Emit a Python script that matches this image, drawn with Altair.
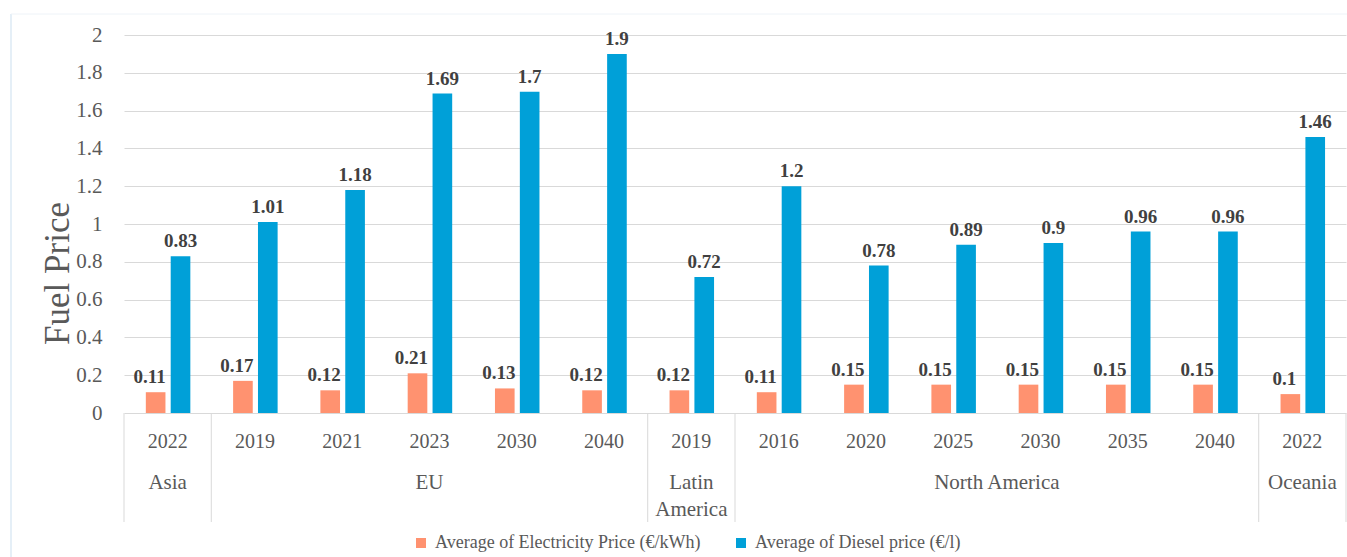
import altair as alt
import pandas as pd

# Fuel price comparison by region and year
regions = ["Asia", "EU", "EU", "EU", "EU", "EU", "Latin America",
           "North America", "North America", "North America", "North America",
           "North America", "North America", "Oceania"]
years = ["2022", "2019", "2021", "2023", "2030", "2040", "2019",
         "2016", "2020", "2025", "2030", "2035", "2040", "2022"]
electricity = [0.11, 0.17, 0.12, 0.21, 0.13, 0.12, 0.12,
               0.11, 0.15, 0.15, 0.15, 0.15, 0.15, 0.1]
diesel = [0.83, 1.01, 1.18, 1.69, 1.7, 1.9, 0.72,
          1.2, 0.78, 0.89, 0.9, 0.96, 0.96, 1.46]
series_names = ["Average of Electricity Price (€/kWh)", "Average of Diesel price (€/l)"]
series_colors = ["#FF9270", "#00A0D8"]
y_ticks = [0, 0.2, 0.4, 0.6, 0.8, 1.0, 1.2, 1.4, 1.6, 1.8, 2.0]

FONT = "Liberation Serif"
GRID = "#d9d9d9"
TEXT = "#595959"

# long table: one row per bar
rows = []
for i, (reg, yr) in enumerate(zip(regions, years)):
    rows.append({"slot": i, "region": reg, "year": yr, "series": series_names[0], "value": electricity[i], "k": 0})
    rows.append({"slot": i, "region": reg, "year": yr, "series": series_names[1], "value": diesel[i], "k": 1})
bars_df = pd.DataFrame(rows)

slots_df = pd.DataFrame({"slot": list(range(len(years))), "year": years})
slots_df["mid"] = slots_df["slot"] + 0.5

# region groups: centre for the label, edges for the separators
groups = []
edges = [0]
start = 0
for i in range(1, len(regions) + 1):
    if i == len(regions) or regions[i] != regions[start]:
        groups.append({"region": regions[start], "mid": (start + i) / 2})
        edges.append(i)
        start = i
groups_df = pd.DataFrame(groups)
groups_df["label"] = groups_df["region"].str.replace("Latin America", "Latin\nAmerica")
edges_df = pd.DataFrame({"edge": edges})

N = len(years)
xscale = alt.Scale(domain=[0, N], nice=False, zero=False, padding=0)
yscale = alt.Scale(domain=[0, 2], nice=False)

yaxis = alt.Axis(values=y_ticks, format=".1~f", domain=False, ticks=False,
                 grid=True, gridColor=GRID, gridWidth=1, labelOverlap=False,
                 labelFont=FONT, labelFontSize=21, labelColor=TEXT, labelPadding=22,
                 title="Fuel Price", titleFont=FONT, titleFontSize=35,
                 titleFontWeight="normal", titleColor=TEXT,
                 titleX=-67, titleY=238, titleBaseline="middle", titleAngle=270)

base = alt.Chart(bars_df).transform_calculate(
    x0="datum.slot + (datum.k == 0 ? 0.25 : 0.535)",
    x1="datum.slot + (datum.k == 0 ? 0.475 : 0.76)",
    xc="datum.slot + (datum.k == 0 ? 0.3625 : 0.6475)",
)

bars = base.mark_bar(orient="vertical").encode(
    x=alt.X("x0:Q", scale=xscale, axis=None),
    x2="x1:Q",
    y=alt.Y("value:Q", scale=yscale, axis=yaxis),
    y2=alt.datum(0),
    color=alt.Color("series:N",
                    scale=alt.Scale(domain=series_names, range=series_colors),
                    legend=alt.Legend(title=None, orient="none", direction="horizontal",
                                      legendX=288, legendY=499,
                                      symbolType="square", symbolSize=100, symbolStrokeWidth=0,
                                      labelFont=FONT, labelFontSize=18, labelColor=TEXT,
                                      labelOffset=5, columnPadding=31, labelLimit=400)),
)

label_style = dict(baseline="alphabetic", align="center", dy=-9,
                   font=FONT, fontSize=19, fontWeight="bold", color="#404040")
elec_labels = base.transform_filter("datum.k == 0").mark_text(dx=-6, **label_style).encode(
    x=alt.X("xc:Q", scale=xscale, axis=None), y=alt.Y("value:Q", scale=yscale, axis=yaxis),
    text=alt.Text("value:Q", format="~g"))
diesel_labels = base.transform_filter("datum.k == 1").mark_text(**label_style).encode(
    x=alt.X("xc:Q", scale=xscale, axis=None), y=alt.Y("value:Q", scale=yscale, axis=yaxis),
    text=alt.Text("value:Q", format="~g"))

year_text = alt.Chart(slots_df).mark_text(
    font=FONT, fontSize=20, color=TEXT, baseline="middle", align="center"
).encode(x=alt.X("mid:Q", scale=xscale, axis=None), y=alt.value(407), text="year:N")

region_text = alt.Chart(groups_df).mark_text(
    font=FONT, fontSize=21, color=TEXT, baseline="top", align="center",
    lineBreak="\n", lineHeight=27
).encode(x=alt.X("mid:Q", scale=xscale, axis=None), y=alt.value(437), text="label:N")

separators = alt.Chart(edges_df).mark_rule(color=GRID, strokeWidth=1).encode(
    x=alt.X("edge:Q", scale=xscale, axis=None), y=alt.value(378), y2=alt.value(487))

# faint frame around the chart area
frame_left = alt.Chart(edges_df.head(1)).mark_rule(color="#dceaf5", strokeWidth=1.5).encode(
    x=alt.value(-113), y=alt.value(-21), y2=alt.value(522))
frame_top = alt.Chart(edges_df.head(1)).mark_rule(color="#eef3f8", strokeWidth=1).encode(
    x=alt.value(-113), x2=alt.value(1223), y=alt.value(-21))

chart = alt.layer(
    bars, elec_labels, diesel_labels, year_text, region_text, separators, frame_left, frame_top
).properties(
    width=1222, height=378,
    padding={"left": 124, "top": 35, "right": 1, "bottom": 144},
    autosize=alt.AutoSizeParams(type="none"),
    background="white",
).configure_view(stroke=None)

chart.save("out.html", embed_options={"renderer": "svg", "actions": False})
